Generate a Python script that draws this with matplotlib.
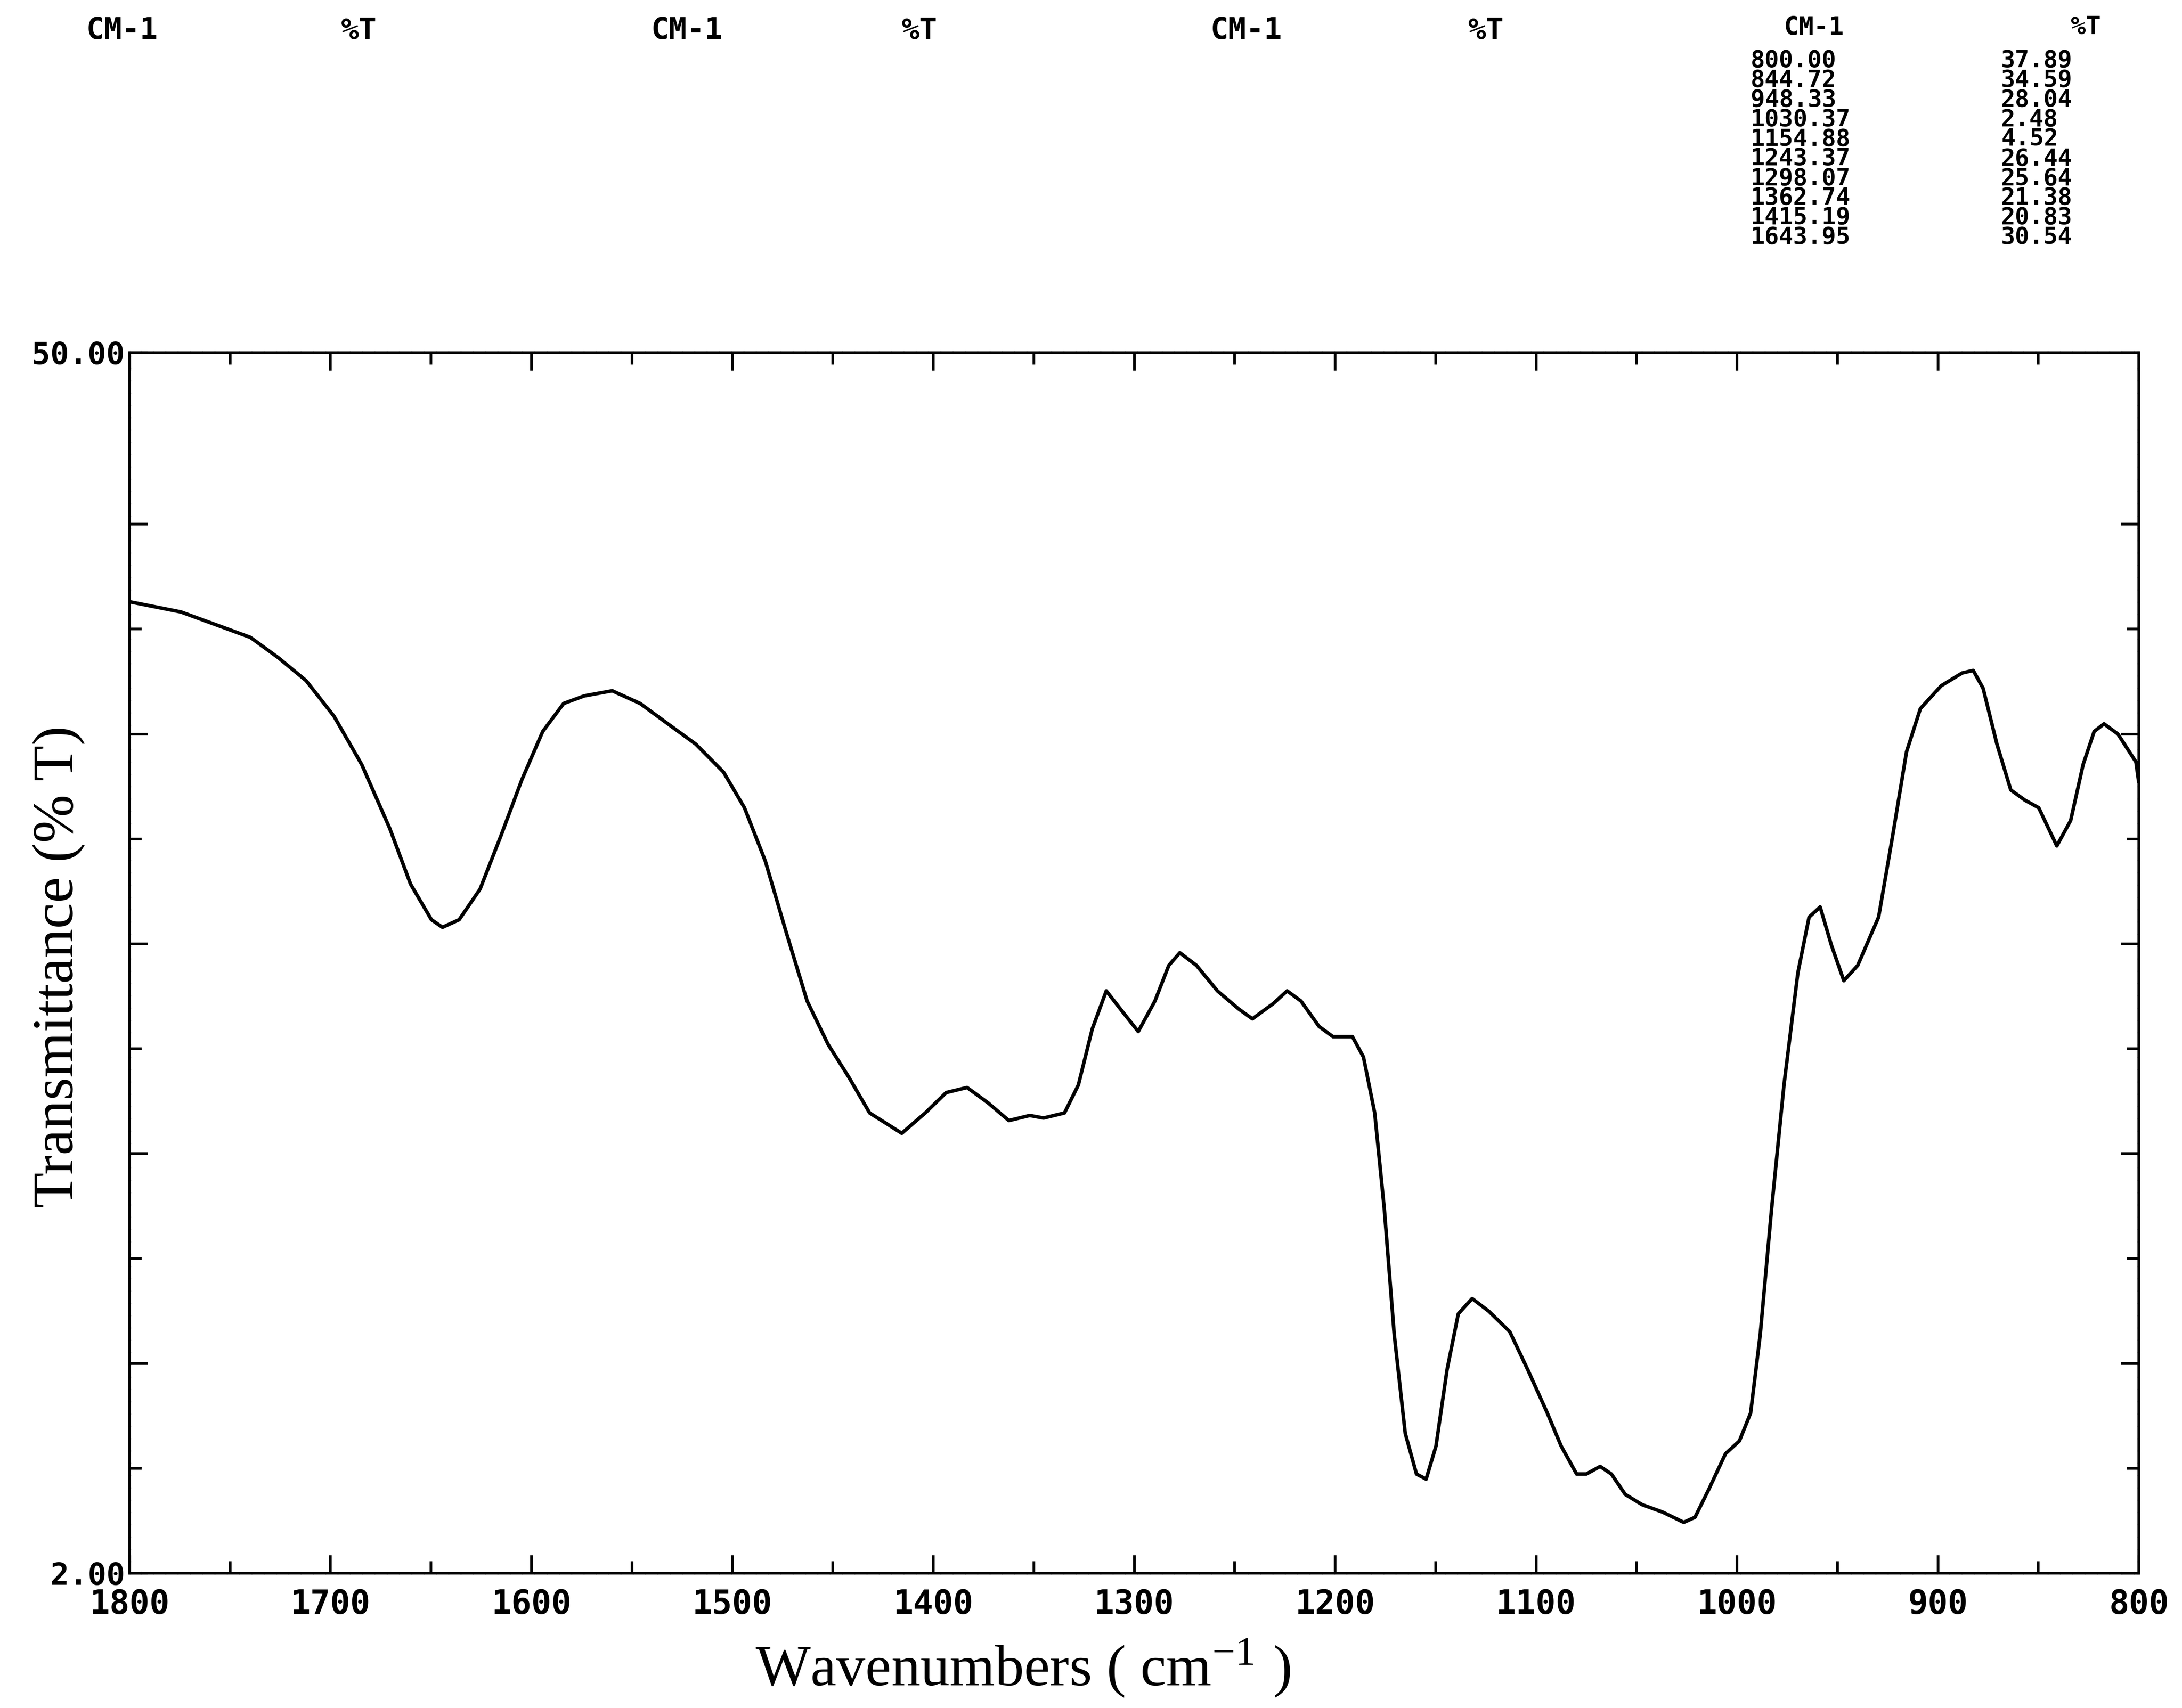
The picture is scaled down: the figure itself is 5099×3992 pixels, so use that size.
import matplotlib
matplotlib.use("Agg")
import matplotlib.pyplot as plt
from matplotlib.ticker import FixedLocator, FixedFormatter

plt.rcParams["mathtext.fontset"] = "stix"

# ---------------- data ----------------
wavenumber = [1800, 1774.5, 1753.7, 1739.9, 1726.0, 1712.2, 1698.3, 1684.5, 1670.6, 1660.2,
              1649.8, 1644.3, 1636.0, 1625.6, 1615.2, 1604.8, 1594.4, 1584.0, 1573.7, 1559.8,
              1545.9, 1532.1, 1518.2, 1504.4, 1494.0, 1483.6, 1473.2, 1462.8, 1452.4, 1442.0,
              1431.7, 1415.7, 1404.0, 1393.6, 1383.2, 1372.8, 1362.4, 1352.0, 1345.1, 1334.7,
              1327.8, 1320.9, 1313.9, 1307.0, 1298.0, 1289.7, 1282.8, 1277.3, 1269.0, 1258.6,
              1248.2, 1241.2, 1230.8, 1223.9, 1217.0, 1208.0, 1201.1, 1191.4, 1185.9, 1180.3,
              1175.5, 1170.6, 1165.1, 1159.5, 1154.7, 1149.8, 1144.3, 1138.7, 1131.8, 1123.5,
              1113.1, 1104.1, 1094.4, 1087.5, 1079.8, 1075.0, 1068.1, 1062.5, 1055.6, 1047.3,
              1036.9, 1026.5, 1020.9, 1014.0, 1005.7, 998.8, 993.2, 988.4, 982.8, 976.6,
              969.7, 964.1, 958.6, 953.0, 946.8, 939.9, 929.5, 922.5, 915.6, 908.7,
              898.3, 887.9, 882.4, 877.5, 870.6, 863.7, 856.7, 849.8, 840.8, 833.9,
              827.7, 822.2, 817.3, 810.4, 801.4, 800]
transmittance = [40.2, 39.8, 39.2, 38.8, 38.0, 37.1, 35.7, 33.8, 31.3, 29.1,
                 27.7, 27.4, 27.7, 28.9, 31.0, 33.2, 35.1, 36.2, 36.5, 36.7,
                 36.2, 35.4, 34.6, 33.5, 32.1, 30.0, 27.2, 24.5, 22.8, 21.5,
                 20.1, 19.3, 20.1, 20.9, 21.1, 20.5, 19.8, 20.0, 19.9, 20.1,
                 21.2, 23.4, 24.9, 24.2, 23.3, 24.5, 25.9, 26.4, 25.9, 24.9,
                 24.2, 23.8, 24.4, 24.9, 24.5, 23.5, 23.1, 23.1, 22.3, 20.1,
                 16.3, 11.4, 7.5, 5.9, 5.7, 7.0, 10.0, 12.2, 12.8, 12.3,
                 11.5, 10.0, 8.3, 7.0, 5.9, 5.9, 6.2, 5.9, 5.1, 4.7,
                 4.4, 4.0, 4.2, 5.3, 6.7, 7.2, 8.3, 11.4, 16.3, 21.2,
                 25.6, 27.8, 28.2, 26.7, 25.3, 25.9, 27.8, 31.0, 34.3, 36.0,
                 36.9, 37.4, 37.5, 36.8, 34.6, 32.8, 32.4, 32.1, 30.6, 31.6,
                 33.8, 35.1, 35.4, 35.0, 33.9, 33.1]

# peak table printed at the top right
peak_cm = ["800.00", "844.72", "948.33", "1030.37", "1154.88",
           "1243.37", "1298.07", "1362.74", "1415.19", "1643.95"]
peak_t = ["37.89", "34.59", "28.04", "2.48", "4.52",
          "26.44", "25.64", "21.38", "20.83", "30.54"]

x_major = [1800, 1700, 1600, 1500, 1400, 1300, 1200, 1100, 1000, 900, 800]
x_labels = ["1800", "1700", "1600", "1500", "1400", "1300", "1200", "1100", "1000", "900", "800"]
y_min, y_max = 2.0, 50.0
y_labels = ["2.00", "50.00"]

# ---------------- figure ----------------
W, H = 5099, 3992
fig = plt.figure(figsize=(W / 100, H / 100), dpi=100)
fig.patch.set_facecolor("white")

def fx(px):
    return px / W

def fy(py):
    return 1 - py / H

left, right, top, bottom = 303, 4998, 824, 3677
ax = fig.add_axes([fx(left), fy(bottom), fx(right) - fx(left), fy(top) - fy(bottom)])

ax.plot(wavenumber, transmittance, color="black", lw=6.0,
        solid_joinstyle="round", solid_capstyle="round")

ax.set_xlim(1800, 800)
ax.set_ylim(y_min, y_max)

# frame: rough, broken printer line
for s in ax.spines.values():
    s.set_linewidth(4.5)
    s.set_linestyle((0, (4.0, 0.6)))
    s.set_color("black")

mono = "DejaVu Sans Mono"

# x ticks
ax.xaxis.set_major_locator(FixedLocator(x_major))
ax.xaxis.set_major_formatter(FixedFormatter(x_labels))
ax.xaxis.set_minor_locator(FixedLocator([x + 50 for x in x_major[1:]]))
ax.tick_params(axis="x", which="major", direction="in", length=30, width=4.5,
               top=True, bottom=True, pad=25, labelsize=56)
ax.tick_params(axis="x", which="minor", direction="in", length=20, width=4.5,
               top=True, bottom=True)

# y ticks (spacing of the printer grid)
step = 4.125
y_long = [y_min + step * k for k in (2, 4, 6, 8, 10)]
y_short = [y_min + step * k for k in (1, 3, 5, 7, 9)]
ax.yaxis.set_major_locator(FixedLocator([y_min] + y_long + [y_max]))
ax.yaxis.set_major_formatter(FixedFormatter([y_labels[0]] + [""] * len(y_long) + [y_labels[1]]))
ax.yaxis.set_minor_locator(FixedLocator(y_short))
ax.tick_params(axis="y", which="major", direction="in", length=30, width=4.5,
               left=True, right=True, pad=8, labelsize=52)
ax.tick_params(axis="y", which="minor", direction="in", length=20, width=4.5,
               left=True, right=True)

for lab in ax.get_xticklabels() + ax.get_yticklabels():
    lab.set_family(mono)
    lab.set_fontweight("bold")

# axis titles (serif)
fig.text(fx(2390), fy(3898), r"Wavenumbers ( cm$^{\mathregular{-1}}$ )", ha="center", va="center",
         family="Liberation Serif", fontsize=98)
fig.text(fx(137), fy(2260), "Transmittance (% T)", ha="center", va="center",
         rotation=90, family="Liberation Serif", fontsize=98)

# header columns
hdr_y = fy(72)
for cx, tx in [(202, 797), (1522, 2107), (2829, 3431)]:
    fig.text(fx(cx), hdr_y, "CM-1", ha="left", va="center", family=mono,
             fontsize=50, fontweight="bold")
    fig.text(fx(tx), hdr_y, "%T", ha="left", va="center", family=mono,
             fontsize=50, fontweight="bold")

fig.text(fx(4169), fy(64), "CM-1", ha="left", va="center", family=mono,
         fontsize=42, fontweight="bold")
fig.text(fx(4839), fy(64), "%T", ha="left", va="center", family=mono,
         fontsize=42, fontweight="bold")

# peak table: one multi-line text per column (rows ~46 px apart)
fig.text(fx(4091), fy(115), "\n".join(peak_cm), ha="left", va="top", family=mono,
         fontsize=40, fontweight="bold", linespacing=0.83)
fig.text(fx(4676), fy(115), "\n".join(peak_t), ha="left", va="top", family=mono,
         fontsize=40, fontweight="bold", linespacing=0.83)

fig.savefig("out.png", dpi=100, facecolor="white")
